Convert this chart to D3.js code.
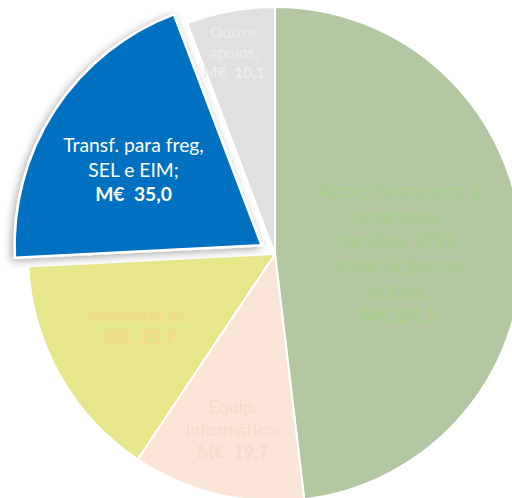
<!DOCTYPE html>
<html><head><meta charset="utf-8">
<script src="https://cdn.jsdelivr.net/npm/d3@7/dist/d3.min.js"></script>
<style>html,body{margin:0;padding:0;background:#fff;overflow:hidden}svg{display:block}</style>
</head><body>
<svg id="c" width="512" height="498"></svg>
<script>
// Data
const categories = ["Apoio financeiro a empresas, famílias, IPSS, associações ou outras", "Equip. Informático", "Alimentação", "Transf. para freg, SEL e EIM", "Outros apoios"];
const values = [84.1, 19.7, 25.9, 35.0, 10.1];
const labelLines = [
  ["Apoio financeiro a", "empresas,", "famílias, IPSS,", "associações ou", "outras;"],
  ["Equip.", "Informático;"],
  ["Alimentação;"],
  ["Transf. para freg,", "SEL e EIM;"],
  ["Outros", "apoios;"]
];
const valueLabels = ["M€ 84,1", "M€  19,7", "M€  25,9", "M€  35,0", "M€  10,1"];

// Styles / layout
const fills = ["#B3C7A3", "#FBE5D6", "#E6E78B", "#0070C0", "#E0E0E0"];
const textColors = ["#A8CF8C", "#F3DDCD", "#F6DA8A", "#FFFFFF", "#ECECEC"];
const fontSizes = [20.5, 18, 18, 19.3, 15.5];
const lineHeights = [25, 23, 22, 24.5, 20];
const labelRadius = [0.49, 0.73, 0.64, 0.60, 0.83];
const labelNudge = [[3, 6], [0, 0], [2, -5], [-4, 6], [-4, 0]];
const explode = [0, 0, 0, 16, 0];
const cx = 275, cy = 254, R = 247;

const svg = d3.select("#c");
const defs = svg.append("defs");
const f = defs.append("filter").attr("id", "sh").attr("x", "-20%").attr("y", "-20%").attr("width", "140%").attr("height", "140%");
f.append("feDropShadow").attr("dx", -2).attr("dy", 2).attr("stdDeviation", 4).attr("flood-color", "#000").attr("flood-opacity", 0.35);

const pie = d3.pie().sort(null).value(d => d)(values);
const arc = d3.arc().innerRadius(0).outerRadius(R);
const g = svg.append("g").attr("transform", `translate(${cx},${cy})`);

pie.forEach((p, i) => {
  const mid = (p.startAngle + p.endAngle) / 2;
  const ox = Math.sin(mid) * explode[i], oy = -Math.cos(mid) * explode[i];
  const sg = g.append("g").attr("transform", `translate(${ox},${oy})`);
  sg.append("path").attr("d", arc(p)).attr("fill", fills[i])
    .attr("stroke", "#fff").attr("stroke-width", explode[i] ? 2.5 : 2)
    .attr("stroke-linejoin", "miter")
    .attr("filter", explode[i] ? "url(#sh)" : null);
});

pie.forEach((p, i) => {
  const mid = (p.startAngle + p.endAngle) / 2;
  const ox = Math.sin(mid) * explode[i], oy = -Math.cos(mid) * explode[i];
  const lr = R * labelRadius[i];
  const lx = ox + Math.sin(mid) * lr + labelNudge[i][0], ly = oy - Math.cos(mid) * lr + labelNudge[i][1];
  const lines = labelLines[i].concat([valueLabels[i]]);
  const n = lines.length;
  const t = g.append("text").attr("text-anchor", "middle")
    .attr("font-family", "Lato, 'Open Sans', sans-serif")
    .attr("font-size", fontSizes[i]).attr("fill", textColors[i]);
  lines.forEach((ln, k) => {
    t.append("tspan").attr("x", lx)
      .attr("y", ly + (k - (n - 1) / 2) * lineHeights[i])
      .attr("dy", "0.35em")
      .attr("font-weight", k === n - 1 ? "bold" : null)
      .attr("xml:space", "preserve")
      .text(ln);
  });
});
</script>
</body></html>
